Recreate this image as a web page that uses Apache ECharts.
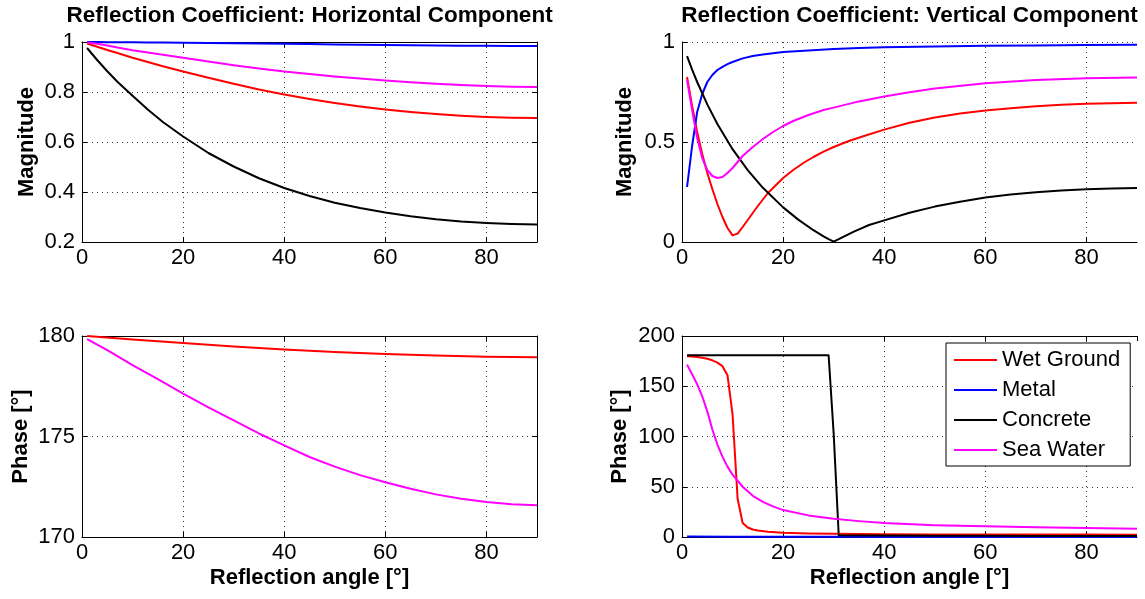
<!DOCTYPE html>
<html><head><meta charset="utf-8">
<script src="https://cdn.jsdelivr.net/npm/echarts@6/dist/echarts.min.js"></script>
<style>html,body{margin:0;padding:0;background:#fff}#c{width:1145px;height:599px}</style>
</head><body><div id="c"></div>
<script>
// ---------- data ----------
const seriesNames = ['Wet Ground', 'Metal', 'Concrete', 'Sea Water'];
const seriesColors = ['#ff0000', '#0000ff', '#000000', '#ff00ff'];
const panelTitles = ['Reflection Coefficient: Horizontal Component', 'Reflection Coefficient: Vertical Component'];
const xAxisTicks = { min: 0, max: 90, interval: 20 };

// Top-left: horizontal magnitude
const xTL = [1,3,5,7,10,13,16,20,25,30,35,40,45,50,55,60,65,70,75,80,85,90];
const wetTL = [0.994,0.981,0.968,0.956,0.937,0.920,0.903,0.882,0.857,0.833,0.810,0.790,0.772,0.756,0.742,0.730,0.720,0.712,0.705,0.700,0.697,0.696];
const metTL = [1.000,1.000,0.999,0.999,0.999,0.998,0.998,0.997,0.996,0.995,0.994,0.993,0.992,0.990,0.989,0.988,0.987,0.986,0.985,0.985,0.984,0.984];
const conTL = [0.976,0.928,0.883,0.841,0.785,0.730,0.680,0.622,0.556,0.502,0.455,0.416,0.384,0.357,0.336,0.318,0.303,0.291,0.282,0.276,0.272,0.270];
const seaTL = [0.998,0.993,0.986,0.978,0.967,0.958,0.949,0.937,0.922,0.907,0.894,0.882,0.872,0.862,0.854,0.846,0.839,0.833,0.828,0.824,0.821,0.820];

// Top-right: vertical magnitude
const xWetTR = [1,2,3,4,5,6,7,8,9,10,11,12,13,14,15,17,20,22,24,26,28,30,33,36,40,45,50,55,60,65,70,75,80,85,90];
const wetTR = [0.825,0.68,0.55,0.44,0.345,0.265,0.19,0.125,0.07,0.033,0.042,0.075,0.11,0.145,0.18,0.245,0.32,0.36,0.395,0.425,0.452,0.475,0.505,0.53,0.562,0.596,0.622,0.642,0.657,0.669,0.679,0.686,0.691,0.694,0.696];
const xMetTR = [1,2,3,4,5,6,7,8,9,10,12,14,16,18,20,25,30,35,40,50,60,70,80,90];
const metTR = [0.275,0.48,0.65,0.74,0.80,0.835,0.86,0.876,0.889,0.90,0.918,0.93,0.938,0.944,0.95,0.958,0.965,0.97,0.974,0.978,0.981,0.983,0.985,0.986];
const xConTR = [1,2,3,5,7,10,13,16,20,23,26,28,29,30,31,32,34,37,40,45,50,55,60,65,70,75,80,85,90];
const conTR = [0.929,0.862,0.80,0.688,0.59,0.464,0.359,0.271,0.173,0.112,0.059,0.028,0.014,0.002,0.014,0.027,0.052,0.085,0.108,0.146,0.177,0.201,0.222,0.237,0.249,0.258,0.264,0.268,0.27];
const xSeaTR = [1,2,3,4,5,6,7,8,9,10,12,14,16,18,20,22,25,28,30,35,40,45,50,60,70,80,90];
const seaTR = [0.81,0.66,0.52,0.42,0.36,0.33,0.32,0.325,0.345,0.37,0.43,0.475,0.515,0.55,0.58,0.605,0.635,0.66,0.672,0.703,0.728,0.749,0.767,0.794,0.81,0.819,0.822];

// Bottom-left: horizontal phase
const xWetBL = [1,10,20,30,40,50,60,70,80,90];
const wetBL = [180.0,179.83,179.65,179.48,179.33,179.21,179.11,179.03,178.97,178.94];
const xSeaBL = [1,5,10,15,20,25,30,35,40,45,50,55,60,65,70,75,80,85,90];
const seaBL = [179.85,179.3,178.55,177.85,177.13,176.45,175.8,175.15,174.56,173.98,173.5,173.08,172.72,172.4,172.12,171.9,171.74,171.63,171.58];

// Bottom-right: vertical phase
const xWetBR = [1,2,3,4,5,6,7,8,9,10,11,12,13,14,15,17,20,25,30,40,50,60,70,80,90];
const wetBR = [179.8,179.5,179,178.3,177.3,175.8,173.5,170,161,122,38,14,9.5,7.5,6.5,5.3,4.3,3.6,3.2,2.8,2.6,2.5,2.4,2.4,2.3];
const xMetBR = [1,10,20,30,40,50,60,70,80,90];
const metBR = [0.5,0.3,0.2,0.15,0.1,0.1,0.1,0.1,0.1,0.1];
const xConBR = [1,10,20,29,30,31,40,50,60,70,80,90];
const conBR = [180.8,180.8,180.8,180.8,103,1.7,1.5,1.3,1.2,1.1,1.0,1.0];
const xSeaBR = [1,2,3,4,5,6,7,8,9,10,12,14,16,18,20,25,30,35,40,50,60,70,80,90];
const seaBR = [171.5,162,152,140,125,107,92,80,70,62,50,41,35,30.5,26.8,21.5,18.2,15.8,13.9,11.8,10.6,9.7,9,8.3];

// ---------- layout ----------
const F = "'Liberation Sans', Arial, Helvetica, sans-serif";
const grids = [
  { left: 82, top: 42, width: 455, height: 200 },
  { left: 682, top: 42, width: 455, height: 200 },
  { left: 82, top: 336, width: 455, height: 201 },
  { left: 682, top: 336, width: 455, height: 201 }
];
const yCfg = [
  { min: 0.2, max: 1, interval: 0.2, name: 'Magnitude', gap: 44 },
  { min: 0, max: 1, interval: 0.5, name: 'Magnitude', gap: 46 },
  { min: 170, max: 180, interval: 5, name: 'Phase [°]', gap: 50 },
  { min: 0, max: 200, interval: 50, name: 'Phase [°]', gap: 51 }
];
const gridLineStyle = { color: '#333', type: [1, 4], width: 1 };
const xAxes = [], yAxes = [], xMain = [], yMain = [];
grids.forEach((g, i) => {
  xMain[i] = xAxes.length;
  xAxes.push({
    type: 'value', gridIndex: i, min: xAxisTicks.min, max: xAxisTicks.max, interval: xAxisTicks.interval, position: 'bottom',
    axisLine: { show: true, onZero: false, lineStyle: { color: '#000', width: 1 } },
    axisTick: { show: true, inside: true, length: 5, lineStyle: { color: '#000' } },
    axisLabel: { show: true, showMaxLabel: false, margin: 5, color: '#000', fontSize: 22, fontFamily: F },
    splitLine: { show: true, showMaxLine: (i % 2 === 0), lineStyle: gridLineStyle },
    name: i >= 2 ? 'Reflection angle [°]' : '', nameLocation: 'middle', nameGap: 30,
    nameTextStyle: { color: '#000', fontSize: 22, fontWeight: 'bold', fontFamily: F }
  });
  if (i !== 1) {
    xAxes.push({
      type: 'value', gridIndex: i, min: xAxisTicks.min, max: xAxisTicks.max, interval: xAxisTicks.interval, position: 'top',
      axisLine: { show: true, onZero: false, lineStyle: { color: '#000', width: 1 } },
      axisTick: { show: true, inside: true, length: 5, lineStyle: { color: '#000' } },
      axisLabel: { show: false }, splitLine: { show: false }
    });
  }
  const c = yCfg[i];
  yMain[i] = yAxes.length;
  yAxes.push({
    type: 'value', gridIndex: i, min: c.min, max: c.max, interval: c.interval, position: 'left',
    axisLine: { show: true, onZero: false, lineStyle: { color: '#000', width: 1 } },
    axisTick: { show: true, inside: true, length: 5, lineStyle: { color: '#000' } },
    axisLabel: { show: true, margin: 7, color: '#000', fontSize: 22, fontFamily: F },
    splitLine: { show: true, lineStyle: gridLineStyle },
    name: c.name, nameLocation: 'middle', nameRotate: 90, nameGap: c.gap,
    nameTextStyle: { color: '#000', fontSize: 22, fontWeight: 'bold', fontFamily: F }
  });
  if (i % 2 === 0) {
    yAxes.push({
      type: 'value', gridIndex: i, min: c.min, max: c.max, interval: c.interval, position: 'right',
      axisLine: { show: true, onZero: false, lineStyle: { color: '#000', width: 1 } },
      axisTick: { show: true, inside: true, length: 5, lineStyle: { color: '#000' } },
      axisLabel: { show: false }, splitLine: { show: false }
    });
  }
});

function mk(k, gi, xs, ys) {
  const color = seriesColors[k];
  return {
    type: 'line', name: seriesNames[k], xAxisIndex: xMain[gi], yAxisIndex: yMain[gi],
    data: xs.map((x, j) => [x, ys[j]]), symbol: 'none', showSymbol: false,
    smooth: false, color: color,
    lineStyle: { width: 2, color: color, join: 'round' }, itemStyle: { color: color },
    emphasis: { disabled: true }, silent: true, animation: false
  };
}
const series = [
  mk(0, 0, xTL, wetTL), mk(1, 0, xTL, metTL), mk(2, 0, xTL, conTL), mk(3, 0, xTL, seaTL),
  mk(0, 1, xWetTR, wetTR), mk(1, 1, xMetTR, metTR), mk(2, 1, xConTR, conTR), mk(3, 1, xSeaTR, seaTR),
  mk(0, 2, xWetBL, wetBL), mk(3, 2, xSeaBL, seaBL),
  mk(0, 3, xWetBR, wetBR), mk(1, 3, xMetBR, metBR), mk(2, 3, xConBR, conBR), mk(3, 3, xSeaBR, seaBR)
];

const chart = echarts.init(document.getElementById('c'), null, { renderer: 'canvas' });
chart.setOption({
  backgroundColor: '#fff',
  animation: false,
  grid: grids.map(g => Object.assign({ containLabel: false, show: false }, g)),
  xAxis: xAxes,
  yAxis: yAxes,
  series: series,
  legend: {
    show: true,
    data: seriesNames.map(n => ({ name: n, icon: 'rect' })),
    orient: 'vertical', left: 946, top: 343,
    itemWidth: 43, itemHeight: 2, itemGap: 8, padding: [6, 10, 5, 8],
    backgroundColor: '#fff', borderColor: '#000', borderWidth: 1, borderRadius: 0,
    textStyle: { fontSize: 22, color: '#000', fontFamily: F }, selectedMode: false
  },
  graphic: [
    { type: 'text', x: 309.5, y: 16, style: { text: panelTitles[0], fill: '#000', font: "bold 22.5px 'Liberation Sans', Arial", textAlign: 'center', textVerticalAlign: 'middle' } },
    { type: 'text', x: 909.5, y: 16, style: { text: panelTitles[1], fill: '#000', font: "bold 22.5px 'Liberation Sans', Arial", textAlign: 'center', textVerticalAlign: 'middle' } }
  ]
});
</script></body></html>
